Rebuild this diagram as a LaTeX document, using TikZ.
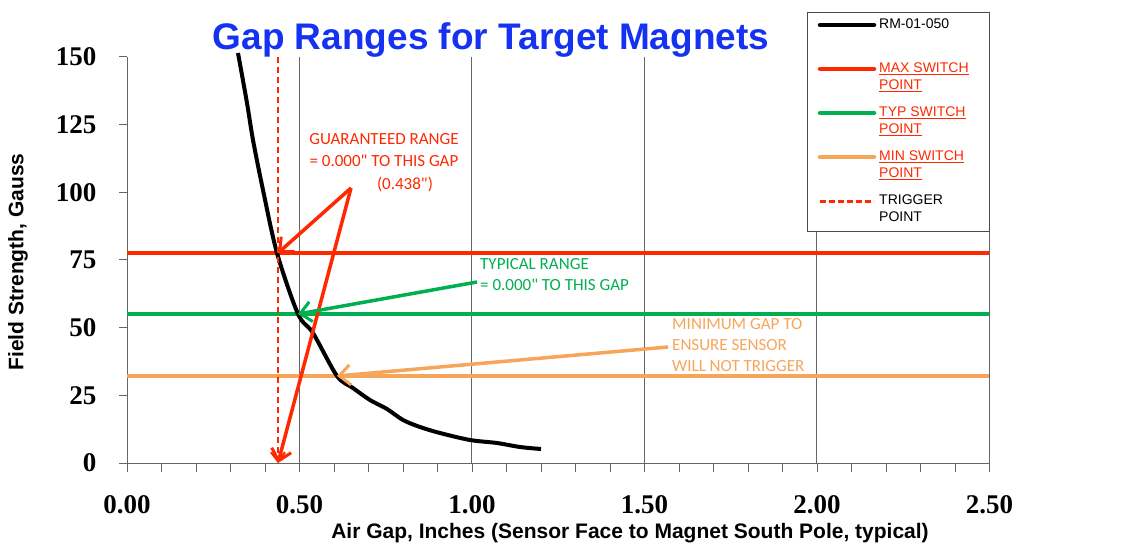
\documentclass[tikz,border=0pt]{standalone}
\usepackage{fontspec}
\setmainfont{Liberation Serif}
\newfontfamily\sansf{Liberation Sans}
\newfontfamily\carl{Carlito}
\usetikzlibrary{arrows.meta}
\definecolor{cred}{RGB}{255,40,0}
\definecolor{cgreen}{RGB}{0,176,80}
\definecolor{corange}{RGB}{247,165,90}
\definecolor{cblue}{RGB}{20,50,240}
\tikzset{
 grid/.style={draw=gray!80!black,line width=1pt},
 hl/.style={line width=4pt},
 num/.style={font=\fontsize{27}{27}\selectfont\bfseries},
 ann/.style={font=\carl\fontsize{17}{21}\selectfont,inner sep=0pt},
 leg/.style={font=\sansf\fontsize{14}{16.5}\selectfont,inner sep=0pt,anchor=north west,align=left},
 arr/.style={line width=3.5pt,-{Straight Barb[length=11pt,width=20pt,line width=3pt]}},
}
\begin{document}
\begin{tikzpicture}[x=1pt,y=-1pt]
\useasboundingbox (0,0) rectangle (1121,550);
% grid
\foreach \x in {299,471,644,816,989} \draw[grid] (\x,57) -- (\x,463);
\draw[grid] (127,57) -- (127,463) -- (989,463);
\foreach \i in {0,...,6} \draw[grid] (127,{463-\i*67.7}) -- (119,{463-\i*67.7});
\foreach \i in {0,...,25} \draw[grid] ({127+\i*34.5},463) -- ({127+\i*34.5},472);
% y labels
\foreach \i/\l in {0/0,1/25,2/50,3/75,4/100,5/125,6/150}
  \node[num,anchor=east] at (100,{463-\i*67.7}) {\l};
\foreach \i/\l in {0/0.00,1/0.50,2/1.00,3/1.50,4/2.00,5/2.50}
  \node[num] at ({127+\i*172.5},505) {\l};
\node[font=\sansf\bfseries\fontsize{21}{21}\selectfont] at (630,533) {Air Gap, Inches (Sensor Face to Magnet South Pole, typical)};
\node[font=\sansf\bfseries\fontsize{21}{21}\selectfont,rotate=90] at (18,262) {Field Strength, Gauss};
\node[font=\sansf\bfseries\fontsize{37}{37}\selectfont,text=cblue] at (491,40) {Gap Ranges for Target Magnets};
% horizontal lines
\draw[hl,cred] (127,253) -- (989,253);
\draw[hl,cgreen] (127,314) -- (989,314);
\draw[hl,corange] (127,376) -- (989,376);
% curve
\draw[line width=4pt,line join=round] plot[smooth,tension=0.5] coordinates {(238,53) (247,103) (253,140) (263,190) (277,253) (298,314) (313,333) (337,376) (353,388) (370,400) (387,409) (403,420) (420,427) (440,433) (470,440) (497,443) (520,447) (541,449)};
% trigger
\coordinate (tt) at (278,57);
\coordinate (tb) at (278,463);
\draw[cred,line width=2.2pt,dash pattern=on 6pt off 4pt,-{Straight Barb[length=9pt,width=14pt,line width=2.2pt]}] (tt) -- (tb);
% arrows
\coordinate (rs) at (351,188);
\coordinate (r1) at (278,253);
\coordinate (r2) at (278,463);
\draw[arr,cred] (rs) -- (r1);
\draw[arr,cred] (rs) -- (r2);
\coordinate (gs) at (477,282);
\coordinate (ge) at (298,314);
\draw[arr,cgreen] (gs) -- (ge);
\coordinate (os) at (668,347);
\coordinate (oe) at (337,376);
\draw[arr,corange] (os) -- (oe);
% annotations
\node[ann,text=cred] (g1) at (384,139) {GUARANTEED RANGE};
\node[ann,text=cred] (g2) at (384,161) {= 0.000" TO THIS GAP};
\node[ann,text=cred] (g3) at (405,184) {(0.438")};
\node[ann,text=cgreen,anchor=west,align=left] (t1) at (480,275) {TYPICAL RANGE\\= 0.000" TO THIS GAP};
\node[ann,text=corange,anchor=west,align=left] (m1) at (672,345) {MINIMUM GAP TO\\ENSURE SENSOR\\WILL NOT TRIGGER};
% legend
\draw[fill=white,draw=gray!60!black,line width=1pt] (807,12) rectangle (989,231);
\draw[line width=4.5pt,line cap=round] (820,25) -- (874,25);
\draw[cred,line width=4.5pt,line cap=round] (820,69) -- (874,69);
\draw[cgreen,line width=4.5pt,line cap=round] (820,113) -- (874,113);
\draw[corange,line width=4.5pt,line cap=round] (820,157) -- (874,157);
\draw[cred,line width=3pt,dash pattern=on 6pt off 3pt] (820,201) -- (874,201);
\node[leg] (l1) at (879,19) {RM-01-050};
\node[leg,text=cred] (l2) at (879,63) {\underline{MAX SWITCH}\\\underline{POINT}};
\node[leg,text=cred] (l3) at (879,107) {\underline{TYP SWITCH}\\\underline{POINT}};
\node[leg,text=cred] (l4) at (879,151) {\underline{MIN SWITCH}\\\underline{POINT}};
\node[leg] (l5) at (879,195) {TRIGGER\\POINT};
\end{tikzpicture}
\end{document}
